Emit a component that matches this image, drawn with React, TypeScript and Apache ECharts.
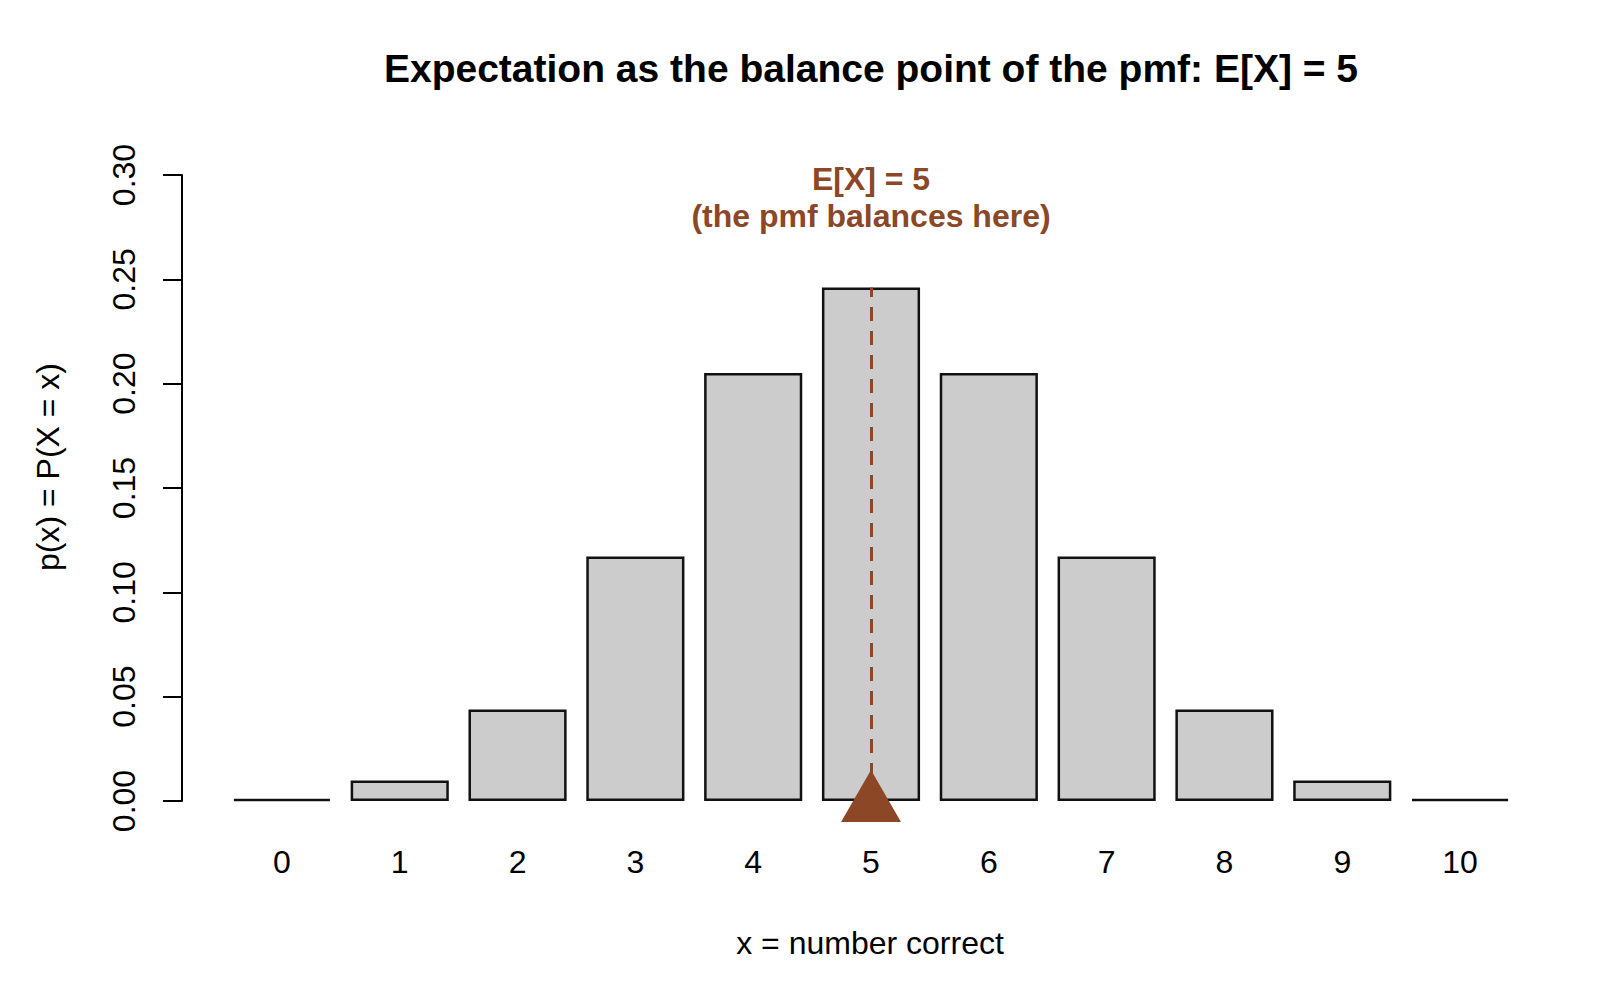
import { useEffect, useRef } from "react";
import * as echarts from "echarts";

// values
const xCategories = ["0", "1", "2", "3", "4", "5", "6", "7", "8", "9", "10"];
const pmfValues = [0.001, 0.0098, 0.0439, 0.1172, 0.2051, 0.2461, 0.2051, 0.1172, 0.0439, 0.0098, 0.001];
const expectedValue = "5";
const annotationY = 0.289;
const annotationLines = ["E[X] = 5", "(the pmf balances here)"];
const yMin = 0;
const yMax = 0.3;
const yStep = 0.05;

const FONT = '"Liberation Sans", Arial, Helvetica, sans-serif';
const SIENNA = "#8B4726";

export default function App() {
  const ref = useRef<HTMLDivElement | null>(null);

  useEffect(() => {
    if (!ref.current) return;
    const chart = echarts.init(ref.current, null, { renderer: "svg" });
    const ePos = xCategories.indexOf(expectedValue);

    chart.setOption({
      animation: false,
      backgroundColor: "#ffffff",
      textStyle: { fontFamily: FONT },
      grid: { left: 223, right: 81, top: 175, bottom: 199, containLabel: false },
      xAxis: {
        type: "category",
        data: xCategories,
        axisLine: { show: false },
        axisTick: { show: false },
        axisLabel: { color: "#000", fontSize: 32, fontFamily: FONT, margin: 45 },
      },
      yAxis: {
        type: "value",
        min: yMin,
        max: yMax,
        interval: yStep,
        offset: 41,
        splitLine: { show: false },
        axisLine: { show: true, lineStyle: { color: "#000", width: 2 } },
        axisTick: { show: true, length: 19, lineStyle: { color: "#000", width: 2 } },
        axisLabel: {
          color: "#000",
          fontSize: 32,
          fontFamily: FONT,
          rotate: 90,
          margin: 42,
          formatter: (v: number) => v.toFixed(2),
        },
      },
      graphic: [
        {
          type: "text",
          x: 871,
          y: 68,
          style: {
            text: "Expectation as the balance point of the pmf: E[X] = 5",
            font: `bold 39px ${FONT}`,
            fill: "#000",
            align: "center",
            verticalAlign: "middle",
          },
        },
        {
          type: "text",
          x: 870,
          y: 943,
          style: {
            text: "x = number correct",
            font: `32px ${FONT}`,
            fill: "#000",
            align: "center",
            verticalAlign: "middle",
          },
        },
        {
          type: "text",
          x: 48,
          y: 467,
          rotation: Math.PI / 2,
          style: {
            text: "p(x) = P(X = x)",
            font: `32px ${FONT}`,
            fill: "#000",
            align: "center",
            verticalAlign: "middle",
          },
        },
      ],
      series: [
        {
          type: "bar",
          data: pmfValues,
          barCategoryGap: "16.7%",
          itemStyle: { color: "#CCCCCC", borderColor: "#111111", borderWidth: 2.5 },
          markLine: {
            silent: true,
            symbol: "none",
            label: { show: false },
            lineStyle: { color: SIENNA, width: 3, type: [14, 10] },
            data: [
              [
                { coord: [expectedValue, 0] },
                { coord: [expectedValue, pmfValues[ePos]] },
              ],
            ],
          },
          markPoint: {
            silent: true,
            data: [
              {
                coord: [expectedValue, 0],
                symbol: "triangle",
                symbolSize: [60, 52],
                symbolOffset: [0, -5],
                itemStyle: { color: SIENNA },
                label: { show: false },
              },
              {
                coord: [expectedValue, annotationY],
                symbol: "circle",
                symbolSize: 0,
                label: {
                  show: true,
                  position: "inside",
                  formatter: annotationLines.join("\n"),
                  color: SIENNA,
                  fontWeight: "bold",
                  fontSize: 32,
                  fontFamily: FONT,
                  lineHeight: 37,
                  align: "center",
                  verticalAlign: "middle",
                },
              },
            ],
          },
        },
      ],
    });

    return () => chart.dispose();
  }, []);

  return (
    <div
      ref={ref}
      style={{ position: "absolute", left: 0, top: 0, width: 1600, height: 1000, background: "#fff" }}
    />
  );
}
